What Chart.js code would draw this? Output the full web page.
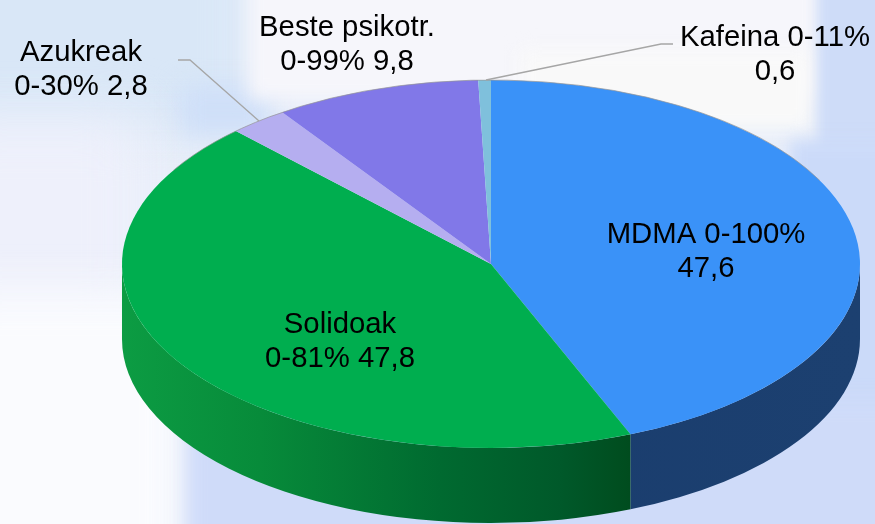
<!DOCTYPE html>
<html>
<head>
<meta charset="utf-8">
<script src="https://cdn.jsdelivr.net/npm/chart.js@4"></script>
<style>
html,body{margin:0;padding:0;background:#eaf0fa;}
#stage{position:relative;width:875px;height:524px;overflow:hidden;background:#e9effa;}
.bg{position:absolute;}
canvas{position:absolute;left:0;top:0;}
</style>
</head>
<body>
<div id="stage">
  <div class="bg" style="left:-60px;top:-60px;width:310px;height:190px;background:#d9e7f7;filter:blur(24px)"></div>
  <div class="bg" style="left:180px;top:85px;width:90px;height:50px;background:#cfdff8;filter:blur(12px)"></div>
  <div class="bg" style="left:-60px;top:120px;width:200px;height:200px;background:#eef0fb;filter:blur(28px)"></div>
  <div class="bg" style="left:-50px;top:290px;width:235px;height:300px;background:#fafbfe;filter:blur(22px)"></div>
  <div class="bg" style="left:248px;top:-30px;width:570px;height:130px;background:#f6f6fb;filter:blur(9px)"></div>
  <div class="bg" style="left:520px;top:50px;width:292px;height:80px;background:#f9f9f9;filter:blur(9px)"></div>
  <div class="bg" style="left:818px;top:-20px;width:90px;height:170px;background:#cedcf8;filter:blur(6px)"></div>
  <div class="bg" style="left:790px;top:140px;width:120px;height:400px;background:#cbdaf9;filter:blur(8px)"></div>
  <div class="bg" style="left:186px;top:400px;width:720px;height:170px;background:#cfdbf9;filter:blur(9px)"></div>
  <canvas id="c" width="875" height="524"></canvas>
</div>
<script>
const categories = ["MDMA 0-100%", "Solidoak 0-81%", "Azukreak 0-30%", "Beste psikotr. 0-99%", "Kafeina 0-11%"];
const values = [47.6, 47.8, 2.8, 9.8, 0.6];
const labelFirstLines = ["MDMA 0-100%", "Solidoak", "Azukreak", "Beste psikotr.", "Kafeina 0-11%"];
const labelSecondLines = ["47,6", "0-81% 47,8", "0-30% 2,8", "0-99% 9,8", "0,6"];
const topColors = ["#3a92f8", "#00ae4f", "#b5aef0", "#8178e8", "#7fc0dc"];

const labelX = [706, 340, 81, 347, 775];
const labelY = [235, 325, 53, 28, 38];
const LINE = 34, FONT = '29.3px "Liberation Sans", Arial, sans-serif';
const DEPTH = 75, SQUASH = 184 / 369, RADIUS = 369;
const leaders = [[[178, 60], [190, 60], [259, 121]], [[673, 44], [661, 44], [486, 80]]];

const pie3d = {
  id: 'pie3d',
  beforeDatasetsDraw(chart) {
    const ctx = chart.ctx, arcs = chart.getDatasetMeta(0).data;
    const a = arcs[0], cx = a.x, cy = a.y, rx = a.outerRadius, ry = rx * SQUASH;
    const sides = [
      [[491, '#1a3d6e'], [860, '#1c4070']],
      [[122, '#0c9c43'], [260, '#078b3a'], [440, '#006a30'], [560, '#00592a'], [630, '#004c1e']]
    ];
    arcs.forEach((el, i) => {
      const start = Math.max(el.startAngle, 0), end = Math.min(el.endAngle, Math.PI);
      if (end <= start || !sides[i]) return;
      const stops = sides[i];
      const x0 = stops[0][0], x1 = stops[stops.length - 1][0];
      const grad = ctx.createLinearGradient(x0, 0, x1, 0);
      stops.forEach(s => grad.addColorStop((s[0] - x0) / (x1 - x0), s[1]));
      ctx.save();
      ctx.beginPath();
      ctx.ellipse(cx, cy + DEPTH, rx, ry, 0, start, end);
      ctx.ellipse(cx, cy, rx, ry, 0, end, start, true);
      ctx.closePath();
      ctx.fillStyle = grad;
      ctx.fill();
      ctx.restore();
    });
    ctx.save();
    ctx.translate(cx, cy);
    ctx.scale(1, SQUASH);
    ctx.translate(-cx, -cy);
  },
  afterDatasetsDraw(chart) {
    const ctx = chart.ctx, a = chart.getDatasetMeta(0).data[0];
    ctx.restore();
    ctx.save();
    ctx.strokeStyle = 'rgba(150,150,150,0.7)';
    ctx.lineWidth = 1;
    ctx.beginPath();
    ctx.ellipse(a.x, a.y, a.outerRadius, a.outerRadius * SQUASH, 0, Math.PI * 1.17, Math.PI * 1.85);
    ctx.stroke();
    ctx.strokeStyle = '#a6a6a6';
    ctx.lineWidth = 1.3;
    leaders.forEach(pts => {
      ctx.beginPath();
      pts.forEach((p, i) => i ? ctx.lineTo(p[0], p[1]) : ctx.moveTo(p[0], p[1]));
      ctx.stroke();
    });
    ctx.fillStyle = '#000';
    ctx.font = FONT;
    ctx.textAlign = 'center';
    ctx.textBaseline = 'middle';
    labelFirstLines.forEach((t, i) => {
      ctx.fillText(t, labelX[i], labelY[i]);
      ctx.fillText(labelSecondLines[i], labelX[i], labelY[i] + LINE);
    });
    ctx.restore();
  }
};

new Chart(document.getElementById('c'), {
  type: 'pie',
  data: {
    labels: categories,
    datasets: [{
      data: values,
      backgroundColor: topColors,
      borderWidth: 0,
      clip: false
    }]
  },
  options: {
    responsive: false,
    animation: false,
    radius: RADIUS,
    events: [],
    layout: {padding: {left: 107, top: 4}},
    plugins: {legend: {display: false}, tooltip: {enabled: false}, title: {display: false}}
  },
  plugins: [pie3d]
});
</script>
</body>
</html>
